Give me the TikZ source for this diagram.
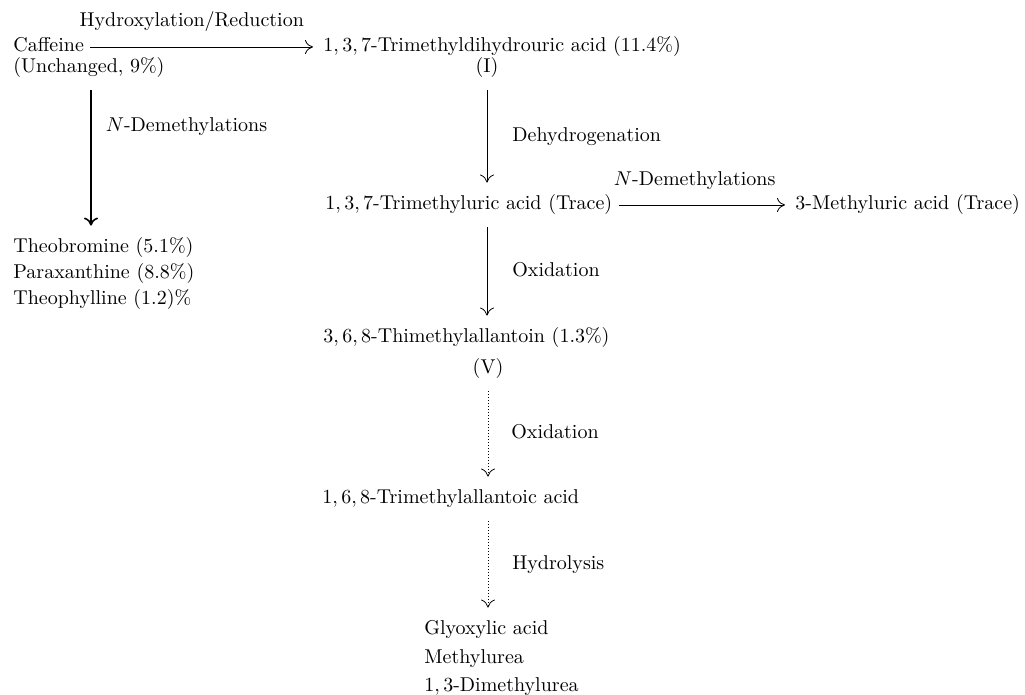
\documentclass[tikz,border=0pt]{standalone}
\usepackage{amssymb}
\usepackage{amsmath}
\usepackage{tikz}
\usetikzlibrary{arrows.meta}

\begin{document}
\begin{tikzpicture}[x=0.5pt,y=-0.5pt,>={Computer Modern Rightarrow[length=4pt,width=7pt]},
    every node/.style={inner sep=0pt,text height=7.5pt,text depth=2.5pt},
    cmp/.style={anchor=west},
    vgap/.style={shorten <=6pt,shorten >=6pt},
    hgap/.style={shorten <=3pt,shorten >=5pt},
    dotline/.style={dash pattern=on 0.5pt off 1pt}]
      \useasboundingbox (0,0) rectangle (1025,695);
      \node[cmp] (caf) at (13,47) {Caffeine};
      \node[cmp] (unch) at (13,68) {(Unchanged, 9\%)};
      \node[cmp] (dhu) at (323,47) {$1,3,7$-Trimethyldihydrouric acid (11.4\%)};
      \node (roI) at (487,68) {(I)};
      \node[cmp] (theo) at (13,248) {Theobromine (5.1\%)};
      \node[cmp] (para) at (13,274) {Paraxanthine (8.8\%)};
      \node[cmp] (theoph) at (13,300) {Theophylline (1.2)\%};
      \node[cmp] (tmu) at (325,205) {$1,3,7$-Trimethyluric acid (Trace)};
      \node[cmp] (mua) at (795,205) {3-Methyluric acid (Trace)};
      \node[cmp] (tma) at (323,338) {$3,6,8$-Thimethylallantoin (1.3\%)};
      \node (roV) at (488,369) {(V)};
      \node[cmp] (tmaa) at (322,499) {$1,6,8$-Trimethylallantoic acid};
      \node[cmp] (gly) at (424,630) {Glyoxylic acid};
      \node[cmp] (mu) at (424,659) {Methylurea};
      \node[cmp] (dmu) at (424,687) {$1,3$-Dimethylurea};
      \draw[->,hgap] (caf.east) -- node[pos=0.45,above=7.5pt] (hyd) {Hydroxylation/Reduction} (dhu.west);
      \draw[->,vgap,thick] ([xshift=39pt]unch.south west) -- node[pos=0.3,right=7pt] (ndm1) {$N$-Demethylations} ([xshift=39pt]theo.north west);
      \draw[->,vgap] (roI.south) -- node[right=12.5pt] (dhg) {Dehydrogenation} (tmu.north -| roI.south);
      \draw[->,hgap] (tmu.east) -- node[pos=0.45,above=7pt] (ndm2) {$N$-Demethylations} (mua.west);
      \draw[->,vgap] (tmu.south -| roI.south) -- node[right=12.5pt] (ox1) {Oxidation} (tma.north -| roI.south);
      \draw[->,vgap,dotline] (roV.south) -- node[right=11.5pt] (ox2) {Oxidation} (tmaa.north -| roV.south);
      \draw[->,vgap,dotline] (tmaa.south -| roV.south) -- node[right=12pt] (hyl) {Hydrolysis} (gly.north -| roV.south);
      % \draw[very thin,gray!40] (0,0) rectangle (1025,695);
\end{tikzpicture}
\end{document}
